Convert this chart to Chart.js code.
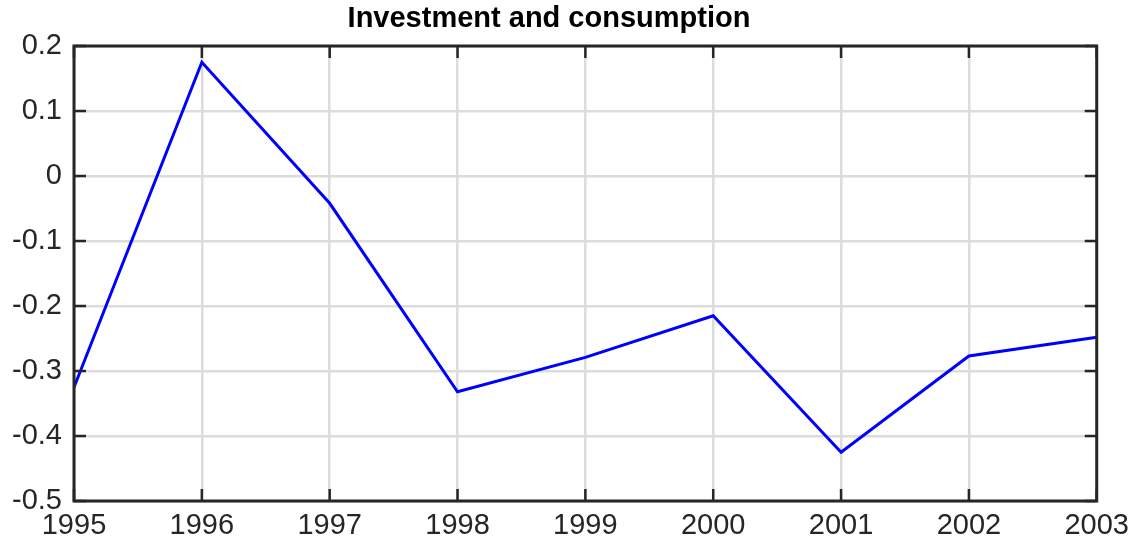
<html>
<head>
    <meta charset="utf-8">
    <script src="https://cdn.jsdelivr.net/npm/chart.js@4/dist/chart.umd.min.js"></script>
    <title>Investment and consumption</title>
    <style>
        body { margin: 0; background: #fff; }
        #wrap { width: 1137px; height: 543px; }
    </style>
</head>
<body>
<div id="wrap"><canvas id="line-chart" width="1137" height="543"></canvas></div>
<script>
    // values
    const years = [1995, 1996, 1997, 1998, 1999, 2000, 2001, 2002, 2003];
    const values = [-0.325, 0.175, -0.042, -0.332, -0.279, -0.215, -0.425, -0.277, -0.248];
    const yTicks = [-0.5, -0.4, -0.3, -0.2, -0.1, 0, 0.1, 0.2];

    const axisColor = '#262626';
    const font = "'Liberation Sans', Arial, Helvetica, sans-serif";

    const points = [];
    for (let i = 0; i < years.length; i++) {
        points.push({ x: years[i], y: values[i] });
    }

    // box round the plot and inward tick marks on all four sides
    const frame = {
        id: 'frame',
        afterDraw(chart) {
            const ctx = chart.ctx;
            const a = chart.chartArea;
            const xs = chart.scales.x, ys = chart.scales.y;
            const len = 12;
            ctx.save();
            ctx.strokeStyle = axisColor;
            ctx.lineWidth = 2.5;
            ctx.beginPath();
            xs.ticks.forEach(t => {
                const px = xs.getPixelForValue(t.value);
                ctx.moveTo(px, a.bottom); ctx.lineTo(px, a.bottom - len);
                ctx.moveTo(px, a.top); ctx.lineTo(px, a.top + len);
            });
            ys.ticks.forEach(t => {
                const py = ys.getPixelForValue(t.value);
                ctx.moveTo(a.left, py); ctx.lineTo(a.left + len, py);
                ctx.moveTo(a.right, py); ctx.lineTo(a.right - len, py);
            });
            ctx.stroke();
            ctx.lineWidth = 3;
            ctx.strokeRect(a.left, a.top, a.right - a.left, a.bottom - a.top);
            ctx.restore();
        }
    };

    new Chart(document.getElementById('line-chart'), {
        type: 'line',
        data: {
            datasets: [{
                label: 'Investment and consumption',
                data: points,
                borderColor: '#0000ff',
                borderWidth: 3,
                pointRadius: 0,
                tension: 0,
                fill: false
            }]
        },
        options: {
            responsive: false,
            animation: false,
            layout: { padding: { left: 0, right: 39, top: 0, bottom: 0 } },
            plugins: {
                legend: { display: false },
                tooltip: { enabled: false },
                title: {
                    display: true,
                    text: 'Investment and consumption',
                    color: '#000',
                    font: { family: font, size: 29, weight: 'bold' },
                    padding: { top: 2, bottom: 9.2 }
                }
            },
            scales: {
                x: {
                    type: 'linear',
                    min: 1995,
                    max: 2003,
                    afterFit(s) { s.height = 42; },
                    ticks: {
                        stepSize: 1,
                        color: axisColor,
                        font: { family: font, size: 29 },
                        padding: 8,
                        maxRotation: 0,
                        callback: v => String(v)
                    },
                    grid: { color: '#dcdcdc', lineWidth: 2.5, drawTicks: false },
                    border: { display: false }
                },
                y: {
                    min: -0.5,
                    max: 0.2,
                    afterFit(s) { s.width = 74; },
                    afterBuildTicks(s) { s.ticks = yTicks.map(v => ({ value: v })); },
                    ticks: {
                        color: axisColor,
                        font: { family: font, size: 29 },
                        padding: 12,
                        callback: v => String(Math.round(v * 10) / 10)
                    },
                    grid: { color: '#dcdcdc', lineWidth: 2.5, drawTicks: false },
                    border: { display: false }
                }
            }
        },
        plugins: [frame]
    });
</script>
</body>
</html>
